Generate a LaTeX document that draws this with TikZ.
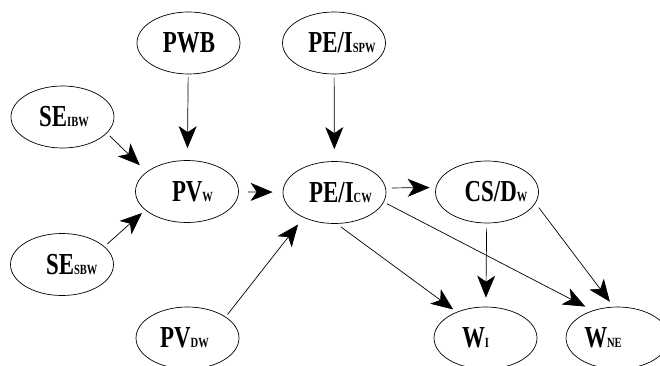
\documentclass[tikz,border=0pt]{standalone}
\usepackage{fontspec}
\newfontfamily\lblfont{Liberation Serif}[FakeStretch=0.75]
\usetikzlibrary{arrows.meta,shapes.geometric}
\newcommand{\sbs}[1]{{\fontsize{14pt}{15pt}\selectfont #1}}
\newcommand{\lbl}[2]{\hspace*{#1}#2\hspace*{-#1}}
\begin{document}
\begin{tikzpicture}[x=1pt,y=-1pt,
  state/.style={draw, ellipse, line width=0.7pt, inner sep=0pt,
    minimum width=103pt, minimum height=62pt,
    font=\lblfont\bfseries\fontsize{30.5pt}{32pt}\selectfont},
  edge/.style={-{Stealth[length=22pt,width=18pt,inset=6pt]}, line width=0.7pt}]
\useasboundingbox (0,0) rectangle (660,366);
\node[state] (pwb)   at (188.5,43)   {\lbl{0.5pt}{PWB}};
\node[state] (pespw) at (334,43)     {\lbl{8pt}{PE/I\sbs{SPW}}};
\node[state] (seibw) at (62.5,117)   {\lbl{1.5pt}{SE\sbs{IBW}}};
\node[state] (pvw)   at (187,191.5)  {\lbl{5.5pt}{PV\sbs{W}}};
\node[state] (pecw)  at (334.5,192.5){\lbl{6pt}{PE/I\sbs{CW}}};
\node[state] (csdw)  at (487,192)    {\lbl{9pt}{CS/D\sbs{W}}};
\node[state] (sesbw) at (62,264.5)   {\lbl{9.7pt}{SE\sbs{SBW}}};
\node[state] (pvdw)  at (187.5,338)  {\lbl{-3pt}{PV\sbs{DW}}};
\node[state] (wi)    at (485.5,338)  {\lbl{-10pt}{W\sbs{I}}};
\node[state] (wne)   at (617.5,338)  {\lbl{-14.5pt}{W\sbs{NE}}};

\draw[edge, shorten <=3pt, shorten >=12pt] (pwb) -- (pvw);
\draw[edge, shorten <=3pt, shorten >=12pt] (pespw) -- (pecw);
\draw[edge, shorten <=4pt, shorten >=9.5pt] (seibw.-20.6) -- (pvw.154.1);
\draw[edge, shorten <=4pt, shorten >=4.4pt] (sesbw.23) -- (pvw.-156.7);
\draw[edge, shorten <=9pt, shorten >=10pt] (pvw) -- (pecw);
\draw[edge, shorten <=6pt, shorten >=6pt] (pecw.5) -- (csdw.175);
\draw[edge, shorten <=3pt, shorten >=8.7pt] (pvdw.29.6) -- (pecw.-141.7);
\draw[edge, shorten <=5pt, shorten >=4.2pt] (pecw.-86) -- (wi.138.6);
\draw[edge, shorten <=3.6pt, shorten >=8.4pt] (pecw.-11.3) -- (wne.132.8);
\draw[edge, shorten <=5pt, shorten >=9pt] (csdw) -- (wi);
\draw[edge, shorten <=5.5pt, shorten >=6.3pt] (csdw.-13.8) -- (wne.97);
\end{tikzpicture}
\end{document}
